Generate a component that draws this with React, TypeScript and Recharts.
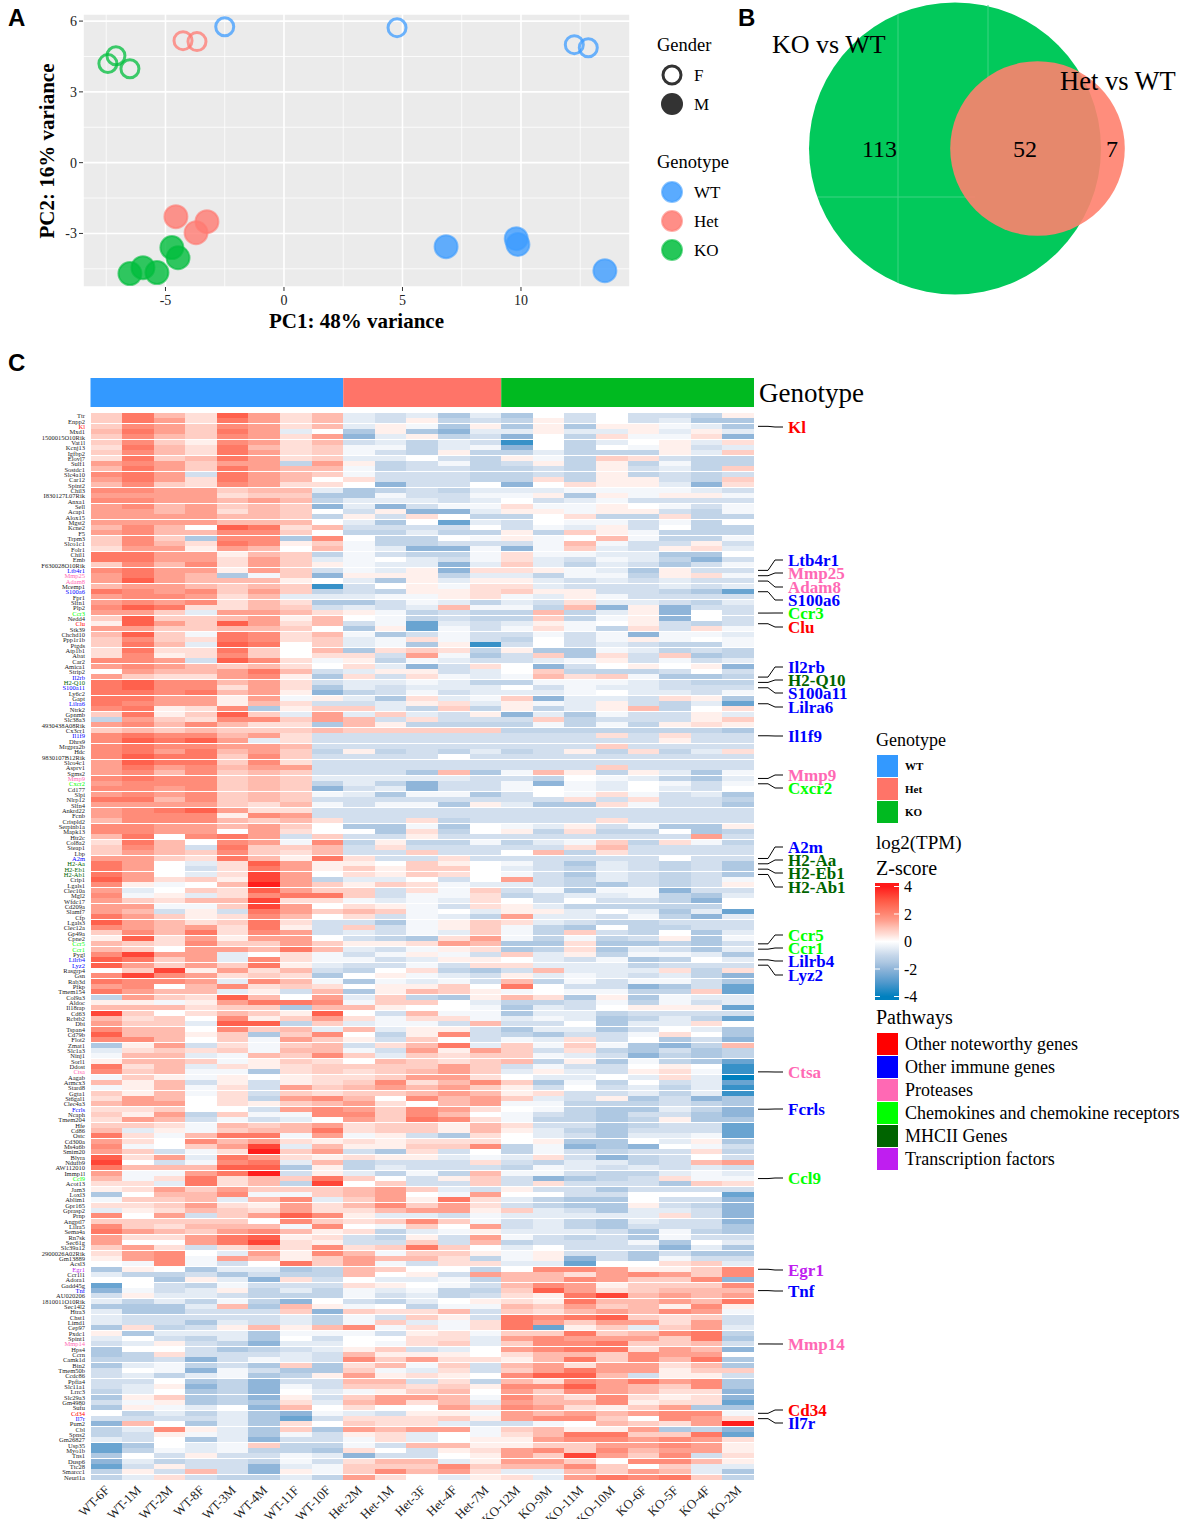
import React from 'react';
import {
  BarChart, Bar, Cell, ScatterChart, Scatter, XAxis, YAxis, ZAxis, CartesianGrid,
} from 'recharts';

const SERIF = '"Liberation Serif", "Times New Roman", serif';
const SANS = '"Liberation Sans", Arial, sans-serif';

const GENOTYPE_COLORS: Record<string, string> = { WT: '#3399FF', Het: '#FF7468', KO: '#00BA20' };
const PCA_COLORS: Record<string, string> = { WT: '#3D9CFF', Het: '#FF7A72', KO: '#00BD3C' };

// --- PCA ---
const wtFemale = [{ x: -2.5, y: 5.76 }, { x: 4.77, y: 5.72 }, { x: 12.25, y: 5.0 }, { x: 12.84, y: 4.87 }];
const hetFemale = [{ x: -4.26, y: 5.17 }, { x: -3.67, y: 5.13 }];
const koFemale = [{ x: -7.43, y: 4.2 }, { x: -7.09, y: 4.53 }, { x: -6.5, y: 3.98 }];
const wtMale = [{ x: 6.84, y: -3.56 }, { x: 9.8, y: -3.22 }, { x: 9.87, y: -3.47 }, { x: 13.54, y: -4.58 }];
const hetMale = [{ x: -4.56, y: -2.29 }, { x: -3.25, y: -2.5 }, { x: -3.71, y: -2.97 }];
const koMale = [
  { x: -4.73, y: -3.6 }, { x: -4.47, y: -4.03 }, { x: -6.5, y: -4.7 }, { x: -5.95, y: -4.45 }, { x: -5.36, y: -4.66 },
];
const pcaXTicks = [-5, 0, 5, 10];
const pcaYTicks = [-3, 0, 3, 6];
const pcaXMinor = [-7.5, -2.5, 2.5, 7.5, 12.5];
const pcaYMinor = [-4.5, -1.5, 1.5, 4.5];

// --- Venn ---
const koSet = [{ x: 215, y: 148.5, z: 165 }];
const hetSet = [{ x: 297.5, y: 148.5, z: 59 }];
const vennSeams = [
  [{ x: 158, y: 14 }, { x: 158, y: 283 }],
  [{ x: 248, y: 5 }, { x: 248, y: 80 }],
  [{ x: 78, y: 197 }, { x: 235, y: 197 }],
];

// --- Heatmap ---
const samples = [
  'WT-6F', 'WT-1M', 'WT-2M', 'WT-8F', 'WT-3M', 'WT-4M', 'WT-11F', 'WT-10F',
  'Het-2M', 'Het-1M', 'Het-3F', 'Het-4F', 'Het-7M',
  'KO-12M', 'KO-9M', 'KO-11M', 'KO-10M', 'KO-6F', 'KO-5F', 'KO-4F', 'KO-2M',
];
const groupSizes = [{ group: 'Genotype', WT: 8, Het: 5, KO: 8 }];

const genes = [
  'Ttr', 'Enpp2', 'Kl', 'Mxd1', '1500015O10Rik', 'Vat1l', 'Kcnj13', 'Igfbp2', 'Elovl7', 'Sulf1',
  'Sostdc1', 'Slc4a10', 'Car12', 'Spint2', 'Chil3', 'I830127L07Rik', 'Anxa1', 'Sell', 'Acap1', 'Alox15',
  'Mgst2', 'Kcne2', 'F5', 'Trpm3', 'Slco1c1', 'Folr1', 'Chil1', 'Emb', 'F630028O10Rik', 'Ltb4r1',
  'Mmp25', 'Adam8', 'Mcemp1', 'S100a6', 'Fpr1', 'Slfn1', 'Plp2', 'Ccr3', 'Nedd4', 'Clu',
  'Stk39', 'Chchd10', 'Ppp1r1b', 'Ptgds', 'Atp1b1', 'Abat', 'Car2', 'Amica1', 'Strip2', 'Il2rb',
  'H2-Q10', 'S100a11', 'Ly6c2', 'Gapt', 'Lilra6', 'Ntrk2', 'Gpnmb', 'Slc38a3', '4930438A08Rik', 'Cx3cr1',
  'Il1f9', 'Dhrs9', 'Mrgpra2b', 'Hdc', '9830107B12Rik', 'Slco4c1', 'Asprv1', 'Sgms2', 'Mmp9', 'Cxcr2',
  'Cd177', 'Slpi', 'Nlrp12', 'Slfn4', 'Ankrd22', 'Fcnb', 'Crispld2', 'Serpinb1a', 'Mapk13', 'Htr2c',
  'Col8a2', 'Steap1', 'Lbp', 'A2m', 'H2-Aa', 'H2-Eb1', 'H2-Ab1', 'Crip1', 'Lgals1', 'Clec10a',
  'Mgl2', 'Wfdc17', 'Cd209a', 'Slamf7', 'Cfp', 'Lgals3', 'Clec12a', 'Gp49a', 'Cpne2', 'Ccr5',
  'Ccr1', 'Pygl', 'Lilrb4', 'Lyz2', 'Rasgrp4', 'Gsn', 'Rab3d', 'Pfkp', 'Tmem154', 'Col9a3',
  'Aldoc', 'Il18rap', 'Cd63', 'Rcbtb2', 'Dbi', 'Tspan4', 'Cd79b', 'Flot2', 'Zmat1', 'Slc1a3',
  'Ninj1', 'Sorl1', 'Ddost', 'Ctsa', 'Aagab', 'Armcx3', 'Stard8', 'Ggta1', 'St6gal1', 'Clec4a3',
  'Fcrls', 'Ncaph', 'Tmem204', 'Hfe', 'Cd86', 'Ostc', 'Cd300a', 'Ms4a6b', 'Smim20', 'Blvra',
  'Ndufb9', 'AW112010', 'Immp1l', 'Ccl9', 'Acot13', 'Jam3', 'Loxl3', 'Ablim1', 'Gpr165', 'Gprasp2',
  'Prnp', 'Angptl7', 'Lilra5', 'Sema4a', 'Rn7sk', 'Sec61g', 'Slc39a12', '2900026A02Rik', 'Gm13889', 'Acsl3',
  'Egr1', 'Ccr1l1', 'Adora1', 'Gadd45g', 'Tnf', 'AU020206', '1810011O10Rik', 'Sec14l2', 'Htra3', 'Chst1',
  'Limd1', 'Cep97', 'Pxdc1', 'Spint1', 'Mmp14', 'Hps4', 'Ccrn', 'Camk1d', 'Bin2', 'Tmem50b',
  'Ccdc86', 'Ppfia4', 'Slc11a1', 'Lrrc3', 'Slc29a3', 'Gm4980', 'Sufu', 'Cd34', 'Il7r', 'Pum2',
  'Cbl', 'Spns2', 'Gm26827', 'Usp35', 'Myo1b', 'Tns1', 'Dusp6', 'Ttc28', 'Smarcc1', 'Neurl1a',
];

// one string per gene, one character per sample, read by eye; see zLevels for what a character means
const zLevels: Record<string, number> = {
  '0': 0, '1': 0.25, '2': 0.5, '3': 0.8, '4': 1.1, '5': 1.5, '6': 1.9, '7': 2.3, '8': 2.8, '9': 3.3, R: 3.95,
  a: -0.2, b: -0.5, c: -0.8, d: -1.1, e: -1.5, f: -2, g: -2.6, h: -3.3, i: -4,
};
const zRows = [
  '37428524 bcbeb e0c0ccd1', '37527524 bc1dc d1c0cbee', '36536524 b1ae1 e1e11abe', '475375b0 e1efb b1bb1b1b',
  '36436525 fb1dc f0d2aa2f', '36316524 cbdbc h0db01b2', '27427423 aadba f0d0a1cb', '36427523 acd1d dbddd1b3',
  '27347523 bb0cd 1ad32cdd', '565355d5 1dcad c1d1dadd', '47537544 adccd dcd1cbd3', '675c7543 acccd dcd1dcdc',
  '57527540 2cccd d2d11cd3', '46326522 0fcc0 f0211bf2', '6655344b edcdb bbaaaabc', '5555233e eacca a1e1a11a',
  '6655454d bbbcb 0cbacccc', '5645343f bfcaa 2aa10aca', '55452430 c1ffb 11a11cda', '5555443d 1c20d d02dd2dd',
  '55554440 be0gb c0aacad0', '46408724 cccc0 cab1c0dd', '56446630 ddbdd 1d31addd', '363e66e6 0dd0a 1a04adda',
  '36427613 addcc ca4acc1c', '25515404 abffa fa3bc12b', '7755143d acdda 2aabbee0', '7755253b a0bca 2bcabdfc',
  '36462531 abbfb 3bdbceca', '6755153c ab1f2 21abe1cc', '5754ea3f 111db bdaad12a', '58544410 be1b1 1bcbcbcc',
  '4554343h c01a2 2bcccbcb', '7656353d cd112 311ccdeg', '566524bb baa12 ab1acccc', '5656242e ecabd bc2bbcdb',
  '6872243c bcb4a ad4f1fcc', '553b5542 1adcd d4db1f0c', '38334514 0adcd d3da1f0c', '18538524 cagbc b1a01cdc',
  '55334430 e1gac a2ad2c2a', '483a7624 aecac cacafaab', '36327623 ba2ac d0ca1a0a', '374b8703 bae1h c0cbcdda',
  '27227304 e232d 1eeabdcd', '26126302 2c5ae c3e2c3ed', '665c862a 1dabc cba1cacb', '56543420 2bfc2 0fc0101f',
  '0544574c b11cb 03dddc0c', '5322561e 2c2ab a423aeed', '7866452c bbabd daaabcdd', '7866252e bcbbb 0cabbccc',
  '7767451f dcacb bba0bbca', '775515a1 be2ba 3fbbc21e', '7655142c cb12b 1ab1cdbg', '67126e13 3bd3d 1db14d02',
  '371383b5 b3bc1 fbeacc1b', 'd5326635 4c2cc c3dccc13', '5646422e 41ddd dadad121', '34343334 33333 ddddddde',
  '6766452c ccccc ccc2c2cc', '68785b2c ccccc ccccc1cc', '6766554c ccccc ccc3cccc', '6757453d 1dcdb dc1d2db2',
  '6877363c ccc0c cccccccc', '5877362c ccccc cccccccc', '5756455c ccccc ccc3cccc', '5646343c cce4e a41d1bea',
  '6766343b bbbbc cd0abdeb', '5666343d bdfcc afab0aca', '6656343f cbfcc a0ab0bc0', '5656343a beaae c0a2acbe',
  '7746343c ccccc cc2c2ccd', '5555324a caae1 bee2acce', '5678522c ccccc cccccccc', '5666165c ccccc cccccccc',
  '46664342 cc2dc ccc2cccc', '66554530 eeae0 ab1caee1', '66550520 0e2d0 1d2dd0ed', '470675c3 cc1cc cccccc5c',
  '274065a6 d1dda dba3d2ad', '364c7334 c2ccc cc24cccc', '35436324 cc3cc 04d2cccc', '55327417 2cc2c ccccc0cc',
  '750b2851 10310 acebcdce', '750c2751 31330 bcdbcdce', '750b2950 21320 acebcdce', '8523195d bb0c0 5cdbcdca',
  '61a04R53 132ab bcdecdc1', '5b032853 3c2a3 caeaafcc', '6a1b2677 3caa2 dcbbadeb', '53244922 abab2 0c0ccdf0',
  '55aa3950 21ac2 1bddddd0', '54c1c753 43a0b 11b0bebg', '75312640 2cabd 5bbcadfb', '8542372c cea13 2bcddccc',
  '6545271c 3ca13 ade0ddcc', '3647265c bcab3 ad3cd0eb', '18251550 cde25 adadc1ea', '43263353 11254 ee2eedec',
  '43055474 bca12 ed2ebceb', '6955b02a ca1ac 3b1daabe', '8735b62a acb11 0bcaed0b', '8535371b ccac2 2bbbdccc',
  '0391524c d02de c4bbb2d2', '6965232e 01abc 1babcbdf', '7665b64a eabac 4dacaace', '56046232 01130 70ccfecg',
  '7544b1c4 e1431 a0aadd3g', 'd5328405 b3de1 42e1eabb', '11a15776 a330b ddcadacb', '444233e4 4100a ebc0111g',
  '93024318 0c4aa ebbdcccc', '42306135 2a22a babedbdg', '533b88d3 baac4 cc0ebb20', '6440634b 4b11c ebbec0be',
  '84413e36 0d16c decca20e', '66403a53 1c30c ab2c0ecf', 'e15c2a34 c247b 3a3aefd4', 'b2323a44 ac515 3c2deced',
  'a44ba436 3b323 3abcfded', '1443a132 04323 4d1eadeg', '724b2123 33353 cacc010h', '634aae23 23453 b1bc12ah',
  'a31a1012 23552 0bb0b2bi', '414c1c12 36246 3ead0cbg', 'a14a2c53 45453 1c0cbdbh', '314a2c32 33454 12ccbdbh',
  '25402d56 40645 3bc1ecfe', '45502134 52045 aadddcde', '22300c56 53652 0adeebdf', '315d3aa6 63640 acdeccef',
  '254cacb0 53762 added1ee', '332a4345 23314 2ccedccg', '4b1a3447 23314 1bdecccg', '72a477a5 a1ce2 0bcebbag',
  '52064521 21222 01ee0b1e', '6a0359b4 11336 dafef0ac', '53ca2R35 ce2c0 dacdcc2d', '825b7521 211ba b2cfdc0c',
  '90ca67b4 dccc2 cdbbdc45', '744488e1 dbccc dabcbcbc', '5aa57Rc1 bdad4 aacddbab', '4a272437 30c13 cfedc2aa',
  '22b724d9 03cc3 c2ccce32', '12535333 453bc 1ccecccc', 'e0446aa3 450a5 00cc000g', 'a334b46b 35172 bdee0ccf',
  '22352152 46352 cdee1cdf', 'b1243252 24551 3bcebbcf', '605c3586 1bbca bbbbb2cf', '33333063 2363a cbdebccf',
  '632444a6 0a305 cbdeccce', '75435641 2dba1 bbbceade', '52257812 cd1c5 acdceacc', '50057921 cc3c4 dcccae0b',
  '352c2426 23730 b0cccfbe', '2560b516 4a331 a1ccecee', '156a5413 5442d a1fceacc', '0a6ac073 5ac22 bbg0023b',
  'e10ebbed 4300d 06651136', 'bddcecdd 401c5 44256536', '00e1bf2c 0bbad 4465336f', 'g0cdaccc 210ac 46513336',
  'facb1dbd abadd 38523444', 'c1bbcddd acbdc 21794545', 'bdbdadf0 cdb01 21744547', 'eeeb4e41 a0daa 43534161',
  'beeccc3f 3224c 3245465a', 'bcccccbd ac31c 7678323c', 'bccebcbd a3ba2 7535525c', 'e2dc1414 6a2a2 7g13b35b',
  '1ebbbeaa ac12a 3373467d', 'b0cdbe0c 0022b 5655537e', 'cb1cdfbb 0a23b 3667334c', 'e00cedcb 13cb0 5677254f',
  'ed2cccbc 41110 24436550', 'ddcfcabc 63522 1473647e', 'ebadce3e 24a3c 4525524e', 'c0afacee 3ab2c 35755133',
  'cbdbaed1 51210 6884c11c', 'cc0edfcc 44c2d 4265756e', 'cb1fdfac 33231 6685436e', 'db0edf0b a1340 5365422f',
  'e13edf1c 3554a 6426212f', 'ca1ede2b 4524b 5446122g', 'e1ab0f40 20053 652135ee', '0dbdbefa bc11a 5454566a',
  'ccccbegc 22231 56630652', 'f40ebe20 322bc ca04325R', 'db61be3e 5455a 34115edf', 'dc1abeac 12b0a 2477337g',
  'bc0ebfcc a2b01 15665652', 'ge0ba3dd ac441 13355651', 'gdabadde 20c12 56364551', 'e0c1ccab fcc01 539536c2',
  'fbdccdac 244b1 55306641', 'gc1ccfba 33363 446303bb', 'd1c4cf1a 36452 bb4354be', 'db2cddbd 520b1 2b57673d',
];

// Z-score colour ramp, low to high
const colorStops: [number, string][] = [
  [-4, '#0080BF'], [-3, '#4F98CC'], [-2, '#8FB5D9'], [-1.5, '#AEC8E2'], [-1, '#C6D7EA'], [-0.5, '#E4ECF5'],
  [0, '#FFFFFF'], [0.25, '#FFF0EC'], [0.5, '#FFDFD8'], [1, '#FFC2B6'], [1.5, '#FFA08F'], [2, '#FF8773'],
  [3, '#FF5844'], [4, '#FF1A1A'],
];
const hexToRgb = (hex: string) => [1, 3, 5].map((i) => parseInt(hex.slice(i, i + 2), 16));
const zColor = (z: number) => {
  for (let i = 1; i < colorStops.length; i++) {
    const [z1, c1] = colorStops[i];
    if (z <= z1) {
      const [z0, c0] = colorStops[i - 1];
      const t = (z - z0) / (z1 - z0);
      const a = hexToRgb(c0);
      const b = hexToRgb(c1);
      return `rgb(${a.map((v, k) => Math.round(v + (b[k] - v) * t)).join(',')})`;
    }
  }
  return colorStops[colorStops.length - 1][1];
};

const zMatrix = zRows.map((row) => row.replace(/ /g, '').split('').map((c) => zLevels[c] ?? 0));
const heatData = genes.map((gene) => {
  const row: Record<string, any> = { gene };
  samples.forEach((s) => { row[s] = 1; });
  return row;
});

const pathways = [
  { name: 'Other noteworthy genes', color: '#FF0000', genes: ['Kl', 'Clu', 'Cd34'] },
  {
    name: 'Other immune genes',
    color: '#0000FF',
    genes: ['Ltb4r1', 'S100a6', 'Il2rb', 'S100a11', 'Lilra6', 'Il1f9', 'A2m', 'Lilrb4', 'Lyz2', 'Fcrls', 'Tnf', 'Il7r'],
  },
  { name: 'Proteases', color: '#FF69B4', genes: ['Mmp25', 'Adam8', 'Mmp9', 'Ctsa', 'Mmp14'] },
  { name: 'Chemokines and chemokine receptors', color: '#00FF00', genes: ['Ccr3', 'Cxcr2', 'Ccr5', 'Ccr1', 'Ccl9'] },
  { name: 'MHCII Genes', color: '#006400', genes: ['H2-Q10', 'H2-Aa', 'H2-Eb1', 'H2-Ab1'] },
  { name: 'Transcription factors', color: '#BF1EF0', genes: ['Egr1'] },
];
const geneColor = (gene: string) => pathways.find((p) => p.genes.includes(gene))?.color;

// page y of each called-out gene's label
const markLabelY: Record<string, number> = {
  Kl: 427, Ltb4r1: 560, Mmp25: 573, Adam8: 587, S100a6: 600, Ccr3: 613, Clu: 627,
  Il2rb: 667, 'H2-Q10': 680, S100a11: 693, Lilra6: 707, Il1f9: 736, Mmp9: 775, Cxcr2: 788,
  A2m: 847, 'H2-Aa': 860, 'H2-Eb1': 873, 'H2-Ab1': 887, Ccr5: 935, Ccr1: 948, Lilrb4: 961, Lyz2: 975,
  Ctsa: 1072, Fcrls: 1109, Ccl9: 1178, Egr1: 1270, Tnf: 1291, Mmp14: 1344, Cd34: 1410, Il7r: 1423,
};

const HEAT_TOP = 400;

const GeneTick = ({ y, payload }: any) => {
  const gene = payload.value;
  const color = geneColor(gene);
  const labelPageY = markLabelY[gene];
  const labelY = labelPageY === undefined ? 0 : labelPageY - HEAT_TOP;
  return (
    <g>
      <text x={85} y={y} textAnchor="end" dominantBaseline="central" fontFamily={SERIF} fontSize={6.5} fill={color || '#222'}>
        {gene}
      </text>
      {labelPageY !== undefined && (
        <g>
          <path d={`M758 ${y}L768 ${y}L775 ${labelY}L783 ${labelY}`} fill="none" stroke="#000" strokeWidth={1} />
          <text x={788} y={labelY} dominantBaseline="central" fontFamily={SERIF} fontWeight="bold" fontSize={17} fill={color}>
            {gene}
          </text>
        </g>
      )}
    </g>
  );
};

const SampleTick = ({ x, y, payload }: any) => {
  const tx = x + 4;
  const ty = y + 3;
  return (
    <text x={tx} y={ty} transform={`rotate(-45 ${tx} ${ty})`} textAnchor="end" fontFamily={SERIF} fontSize={13} fill="#222">
      {samples[payload.value - 0.5]}
    </text>
  );
};

const filledDot = (color: string) => (props: any) => (
  <circle cx={props.cx} cy={props.cy} r={11.5} fill={color} fillOpacity={0.8} stroke={color} strokeOpacity={0.6} strokeWidth={2} />
);
const ringDot = (color: string) => (props: any) => (
  <circle cx={props.cx} cy={props.cy} r={9} fill="none" stroke={color} strokeOpacity={0.75} strokeWidth={3} />
);

const PcaChart = () => {
  const tick = { fontFamily: SERIF, fontSize: 14, fill: '#222' };
  const axisLabel = { fontFamily: SERIF, fontSize: 21, fontWeight: 'bold', fill: '#000' };
  return (
    <div style={{ position: 'absolute', left: 0, top: 0 }}>
      <ScatterChart width={640} height={340} margin={{ left: 48, right: 10, top: 14, bottom: 23 }}>
        <CartesianGrid verticalValues={pcaXMinor} horizontalValues={pcaYMinor} stroke="#fff" strokeWidth={0.8} fill="#EBEBEB" />
        <CartesianGrid stroke="#fff" strokeWidth={1.6} />
        <XAxis
          type="number" dataKey="x" domain={[-8.48, 14.6]} ticks={pcaXTicks} allowDataOverflow height={30}
          tick={tick} tickLine={{ stroke: '#333' }} tickSize={4} axisLine={false} dy={2}
          label={{ value: 'PC1: 48% variance', position: 'bottom', offset: -4, style: axisLabel }}
        />
        <YAxis
          type="number" dataKey="y" domain={[-5.27, 6.3]} ticks={pcaYTicks} allowDataOverflow width={35}
          tick={tick} tickLine={{ stroke: '#333' }} tickSize={4} axisLine={false}
        />
        <Scatter data={wtFemale} shape={ringDot(PCA_COLORS.WT)} isAnimationActive={false} />
        <Scatter data={hetFemale} shape={ringDot(PCA_COLORS.Het)} isAnimationActive={false} />
        <Scatter data={koFemale} shape={ringDot(PCA_COLORS.KO)} isAnimationActive={false} />
        <Scatter data={wtMale} shape={filledDot(PCA_COLORS.WT)} isAnimationActive={false} />
        <Scatter data={hetMale} shape={filledDot(PCA_COLORS.Het)} isAnimationActive={false} />
        <Scatter data={koMale} shape={filledDot(PCA_COLORS.KO)} isAnimationActive={false} />
      </ScatterChart>
    </div>
  );
};

const VennChart = () => (
  <div style={{ position: 'absolute', left: 740, top: 0 }}>
    <ScatterChart width={447} height={300} margin={{ left: 0, right: 0, top: 0, bottom: 0 }}>
      <XAxis type="number" dataKey="x" domain={[0, 447]} hide />
      <YAxis type="number" dataKey="y" domain={[0, 300]} reversed hide />
      <ZAxis type="number" dataKey="z" domain={[0, 165]} range={[0, 66966]} />
      <Scatter data={koSet} shape="circle" fill="#02C95B" isAnimationActive={false} />
      {vennSeams.map((seam, i) => (
        <Scatter key={i} data={seam} line={{ stroke: '#3FD384', strokeWidth: 1 }} shape={() => null} isAnimationActive={false} />
      ))}
      <Scatter data={hetSet} shape="circle" fill="#FF816E" fillOpacity={0.9} isAnimationActive={false} />
    </ScatterChart>
  </div>
);

const GenotypeStrip = () => (
  <div style={{ position: 'absolute', left: 0, top: 378 }}>
    <BarChart
      layout="vertical" width={1187} height={29} data={groupSizes}
      barCategoryGap={0} margin={{ left: 90.5, right: 433, top: 0, bottom: 0 }}
    >
      <XAxis type="number" domain={[0, 21]} hide />
      <YAxis type="category" dataKey="group" hide />
      {['WT', 'Het', 'KO'].map((g) => (
        <Bar key={g} dataKey={g} stackId="a" fill={GENOTYPE_COLORS[g]} isAnimationActive={false} />
      ))}
    </BarChart>
  </div>
);

const Heatmap = () => (
  <div style={{ position: 'absolute', left: 0, top: HEAT_TOP }}>
    <BarChart
      layout="vertical" width={1187} height={1519 - HEAT_TOP} data={heatData}
      barCategoryGap={0} barGap={0} margin={{ left: 0, right: 433, top: 13, bottom: 0 }}
    >
      <XAxis
        type="number" domain={[0, 21]} ticks={samples.map((_, i) => i + 0.5)} interval={0} height={39}
        tick={<SampleTick />} tickLine={false} axisLine={false}
      />
      <YAxis
        type="category" dataKey="gene" width={90.5} interval={0}
        tick={<GeneTick />} tickLine={false} axisLine={false}
      />
      {samples.map((s, c) => (
        <Bar key={s} dataKey={s} stackId="heat" isAnimationActive={false}>
          {genes.map((g, r) => (
            <Cell key={g} fill={zColor(zMatrix[r][c] ?? 0)} shapeRendering="crispEdges" />
          ))}
        </Bar>
      ))}
    </BarChart>
  </div>
);

const T = ({ x, y, size, children, weight, anchor }: any) => (
  <text x={x} y={y} fontFamily={SERIF} fontSize={size} fontWeight={weight} textAnchor={anchor} dominantBaseline="central" fill="#000">
    {children}
  </text>
);

const colorbarTicks = [4, 2, 0, -2, -4];

const Annotations = () => {
  const barTop = 883;
  const barH = 117;
  const zY = (z: number) => 941.5 - z * 13.75;
  return (
    <svg width={1187} height={1519} style={{ position: 'absolute', left: 0, top: 0, pointerEvents: 'none' }}>
      <defs>
        <linearGradient id="zbar" x1="0" y1="0" x2="0" y2="1">
          {[...colorStops].reverse().map(([z, c]) => (
            <stop key={z} offset={(zY(z) - barTop) / barH} stopColor={c} />
          ))}
        </linearGradient>
      </defs>

      {[['A', 8, 17], ['B', 738, 17], ['C', 8, 362]].map(([l, x, y]) => (
        <text key={l as string} x={x as number} y={y as number} fontFamily={SANS} fontWeight="bold" fontSize={24} dominantBaseline="central">
          {l}
        </text>
      ))}

      <text
        x={47} y={151} transform="rotate(-90 47 151)" textAnchor="middle" dominantBaseline="central"
        fontFamily={SERIF} fontSize={21} fontWeight="bold"
      >
        PC2: 16% variance
      </text>

      {/* PCA legend */}
      <T x={657} y={45} size={18.5}>Gender</T>
      <circle cx={672} cy={75} r={9} fill="none" stroke="#333" strokeWidth={3} />
      <T x={694} y={75} size={17}>F</T>
      <circle cx={672} cy={104} r={11} fill="#333" />
      <T x={694} y={104} size={17}>M</T>
      <T x={657} y={162} size={18.5}>Genotype</T>
      {['WT', 'Het', 'KO'].map((g, i) => (
        <g key={g}>
          <circle cx={672} cy={192 + i * 29} r={10} fill={PCA_COLORS[g]} fillOpacity={0.85} stroke={PCA_COLORS[g]} strokeOpacity={0.6} strokeWidth={2} />
          <T x={694} y={192 + i * 29} size={17}>{g}</T>
        </g>
      ))}

      {/* Venn labels */}
      <T x={772} y={44} size={26}>KO vs WT</T>
      <T x={1060} y={81} size={26.5}>Het vs WT</T>
      <T x={862} y={149} size={24}>113</T>
      <T x={1013} y={149} size={24}>52</T>
      <T x={1106} y={149} size={24}>7</T>

      <T x={759} y={393} size={27}>Genotype</T>

      {/* Heatmap legends */}
      <T x={876} y={740} size={18}>Genotype</T>
      {['WT', 'Het', 'KO'].map((g, i) => (
        <g key={g}>
          <rect x={877} y={755 + i * 23} width={21} height={22} fill={GENOTYPE_COLORS[g]} />
          <T x={905} y={766 + i * 23} size={11} weight="bold">{g}</T>
        </g>
      ))}
      <T x={876} y={842} size={19}>log2(TPM)</T>
      <T x={876} y={868} size={20}>Z-score</T>
      <rect x={875} y={barTop} width={24} height={barH} fill="url(#zbar)" />
      {colorbarTicks.map((z) => (
        <g key={z}>
          <line x1={875} x2={880} y1={zY(z)} y2={zY(z)} stroke="#fff" />
          <line x1={894} x2={899} y1={zY(z)} y2={zY(z)} stroke="#fff" />
          <T x={904} y={zY(z)} size={16}>{z}</T>
        </g>
      ))}
      <T x={876} y={1017} size={20}>Pathways</T>
      {pathways.map((p, i) => (
        <g key={p.name}>
          <rect x={877} y={1033 + i * 23} width={21} height={22} fill={p.color} />
          <T x={905} y={1044 + i * 23} size={18}>{p.name}</T>
        </g>
      ))}
    </svg>
  );
};

export default function App() {
  return (
    <div style={{ position: 'absolute', left: 0, top: 0, width: 1187, height: 1519, overflow: 'hidden', background: '#fff' }}>
      <PcaChart />
      <VennChart />
      <GenotypeStrip />
      <Heatmap />
      <Annotations />
    </div>
  );
}
